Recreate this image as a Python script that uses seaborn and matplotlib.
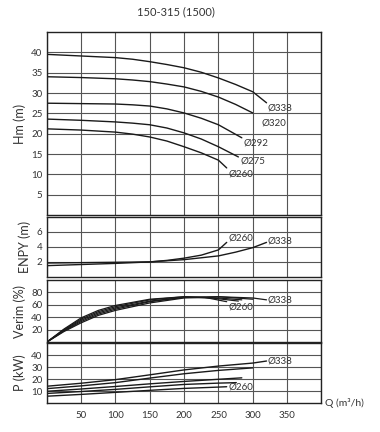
import pandas as pd
import matplotlib
matplotlib.use('Agg')
import matplotlib.pyplot as plt
import seaborn as sns

sns.set_style('white')
plt.rcParams['font.family'] = ['Lato', 'DejaVu Sans']

# Head curves (Hm)
h_q = {
    '338': [0, 50, 100, 125, 150, 175, 200, 225, 250, 275, 300, 320],
    '320': [0, 50, 100, 125, 150, 175, 200, 225, 250, 275, 300],
    '292': [0, 50, 100, 125, 150, 175, 200, 225, 250, 284],
    '275': [0, 50, 100, 125, 150, 175, 200, 225, 250, 279],
    '260': [0, 50, 100, 125, 150, 175, 200, 225, 250, 262],
}
h_val = {
    '338': [39.5, 39.1, 38.7, 38.3, 37.7, 37.0, 36.2, 35.1, 33.7, 32.1, 30.3, 27.6],
    '320': [34.0, 33.8, 33.5, 33.2, 32.8, 32.2, 31.5, 30.4, 29.0, 27.2, 25.1],
    '292': [27.5, 27.4, 27.3, 27.1, 26.8, 26.1, 25.1, 23.8, 22.2, 19.0],
    '275': [23.6, 23.3, 22.9, 22.6, 22.2, 21.4, 20.2, 18.7, 16.8, 14.3],
    '260': [21.2, 20.9, 20.4, 19.9, 19.2, 18.2, 16.8, 15.3, 13.5, 11.6],
}

# NPSH curves
npsh_q = {
    '260': [0, 100, 150, 175, 200, 225, 250, 262],
    '338': [0, 100, 150, 200, 250, 275, 300, 320],
}
npsh_val = {
    '260': [1.85, 1.95, 2.0, 2.2, 2.5, 2.9, 3.6, 4.6],
    '338': [1.5, 1.8, 2.0, 2.3, 2.8, 3.3, 3.9, 4.6],
}

# Efficiency curves
eff_q = {
    '260': [0, 25, 50, 75, 100, 150, 200, 230, 262],
    '275': [0, 25, 50, 75, 100, 150, 200, 240, 279],
    '292': [0, 25, 50, 75, 100, 150, 200, 250, 284],
    '320': [0, 25, 50, 75, 100, 150, 200, 250, 300],
    '338': [0, 25, 50, 75, 100, 150, 200, 250, 300, 320],
}
eff_val = {
    '260': [0, 21, 39, 51, 59, 69, 73, 72, 65],
    '275': [0, 20, 37, 49, 57, 68, 73, 71, 66],
    '292': [0, 19, 35, 47, 55, 66, 72, 71, 68],
    '320': [0, 18, 33, 45, 53, 65, 72, 73, 69],
    '338': [0, 17, 31, 43, 51, 63, 71, 73, 71, 68],
}

# Power curves
p_q = {
    '338': [0, 50, 100, 150, 200, 250, 300, 320],
    '320': [0, 50, 100, 150, 200, 250, 300],
    '292': [0, 50, 100, 150, 200, 250, 284],
    '275': [0, 50, 100, 150, 200, 250, 276],
    '260': [0, 50, 100, 150, 200, 250, 262],
}
p_val = {
    '338': [14, 16.5, 19.5, 23.5, 27.6, 30.8, 33.3, 35],
    '320': [12, 14.3, 17, 20.8, 24.4, 27.2, 29.3],
    '292': [9.8, 11.7, 13.8, 16.0, 18, 19.8, 21],
    '275': [8, 9.6, 11.4, 13.5, 15.5, 16.6, 17],
    '260': [5.7, 7.2, 8.9, 10.6, 12.2, 13.3, 13.6],
}

x_ticks = [50, 100, 150, 200, 250, 300, 350]

line_c = '#1a1a1a'
text_c = '#333333'
grid_c = '#555555'

fig = plt.figure(figsize=(3.8, 4.32), dpi=100)
left, width = 0.123, 0.723
ax_h = fig.add_axes([left, 0.502, width, 0.424])
ax_n = fig.add_axes([left, 0.359, width, 0.139])
ax_e = fig.add_axes([left, 0.208, width, 0.144])
ax_p = fig.add_axes([left, 0.067, width, 0.139])


def style(ax, ylim, yticks, label):
    ax.set_xlim(0, 400)
    ax.set_ylim(*ylim)
    ax.set_xticks([0] + x_ticks + [400])
    ax.set_yticks(yticks)
    ax.grid(True, color=grid_c, lw=0.8)
    ax.tick_params(length=0, labelsize=7, colors=text_c, pad=3)
    ax.set_xticklabels([])
    for s in ax.spines.values():
        s.set_color('#222222')
        s.set_linewidth(1.0)
    ax.set_ylabel(label, fontsize=9, color=text_c, labelpad=4)
    ax.set_xlabel('')


for k in h_q:
    sns.lineplot(x=h_q[k], y=h_val[k], ax=ax_h, color=line_c, lw=1.0)
style(ax_h, (0, 45), [5, 10, 15, 20, 25, 30, 35, 40], 'Hm (m)')
h_lab = {'338': (322, 26.2), '320': (313, 22.6), '292': (287, 17.6),
         '275': (282, 13.3), '260': (264, 10.2)}
for k, (x, y) in h_lab.items():
    ax_h.text(x, y, 'Ø' + k, fontsize=7, color=text_c, va='center')

for k in npsh_q:
    sns.lineplot(x=npsh_q[k], y=npsh_val[k], ax=ax_n, color=line_c, lw=1.0)
style(ax_n, (0, 8), [2, 4, 6], 'ENPY (m)')
ax_n.text(264, 5.2, 'Ø260', fontsize=7, color=text_c, va='center')
ax_n.text(322, 4.8, 'Ø338', fontsize=7, color=text_c, va='center')

for k in eff_q:
    sns.lineplot(x=eff_q[k], y=eff_val[k], ax=ax_e, color=line_c, lw=0.9)
style(ax_e, (0, 100), [20, 40, 60, 80], 'Verim (%)')
ax_e.text(264, 56, 'Ø260', fontsize=7, color=text_c, va='center')
ax_e.text(322, 67, 'Ø338', fontsize=7, color=text_c, va='center')

for k in p_q:
    sns.lineplot(x=p_q[k], y=p_val[k], ax=ax_p, color=line_c, lw=1.0)
style(ax_p, (0, 50), [10, 20, 30, 40], 'P (kW)')
ax_p.set_xticklabels([''] + [str(t) for t in x_ticks] + [''])
ax_p.tick_params(axis='x', pad=6)
ax_p.text(322, 35, 'Ø338', fontsize=7, color=text_c, va='center')
ax_p.text(264, 13.5, 'Ø260', fontsize=7, color=text_c, va='center')
ax_p.text(405, 0, 'Q (m³/h)', fontsize=7.5, color=text_c, va='center')

fig.text(0.463, 0.972, '150-315 (1500)', fontsize=8, color=text_c, ha='center', va='center')

fig.savefig('out.png', dpi=100)
